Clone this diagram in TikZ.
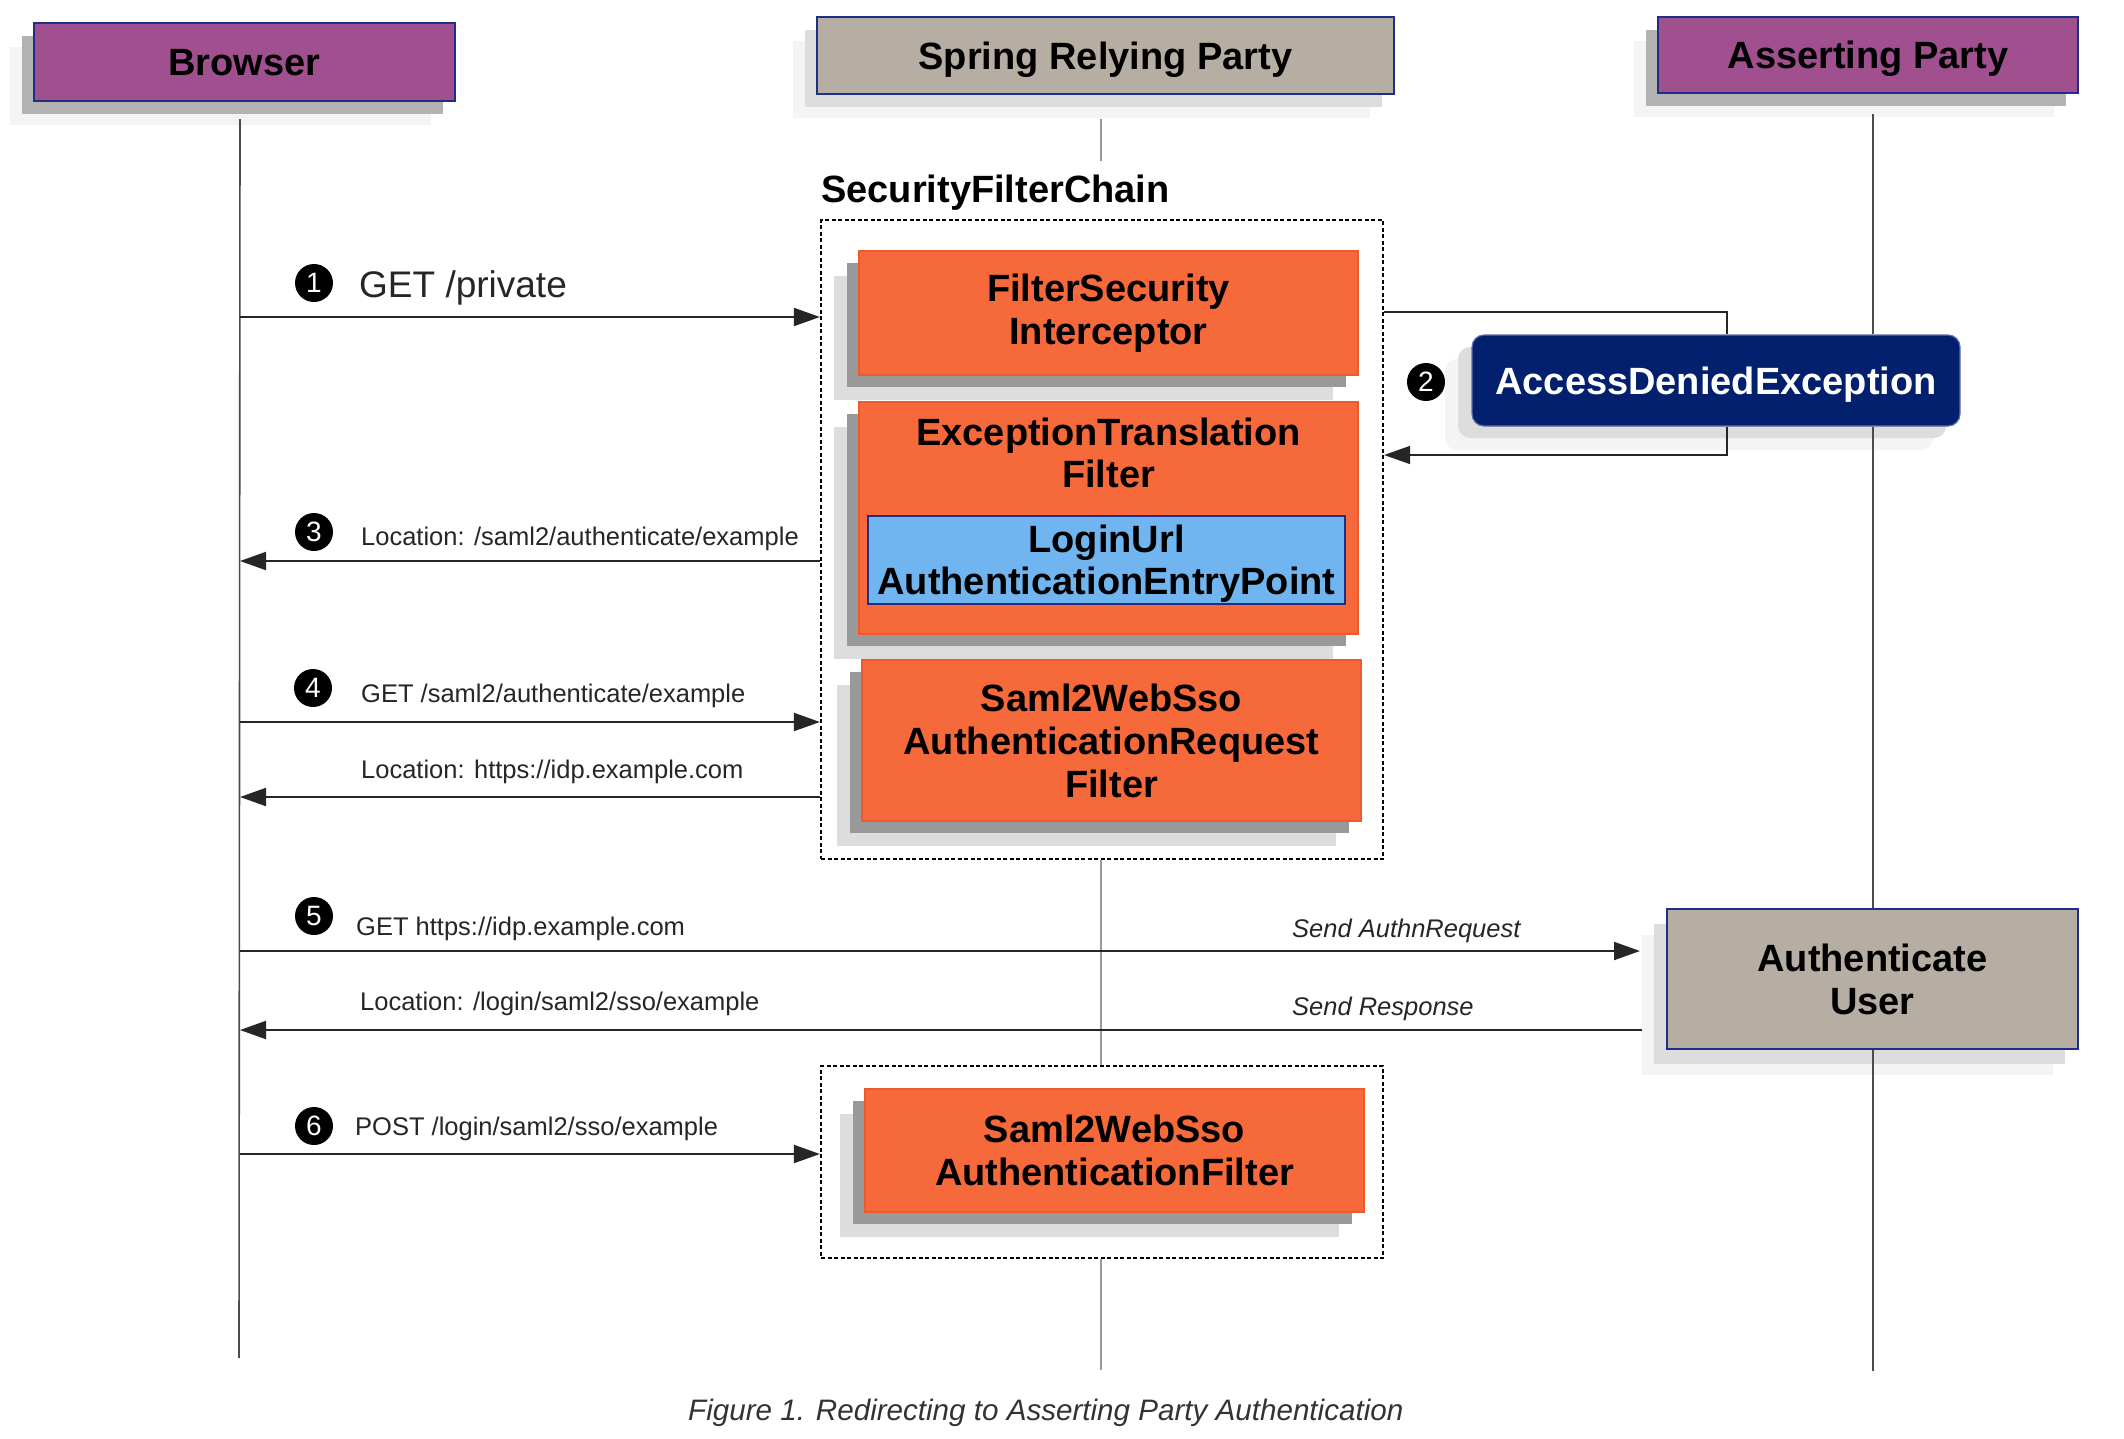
\documentclass[tikz,border=0pt]{standalone}
\usepackage{fontspec}
\setmainfont{Liberation Sans}
\usetikzlibrary{arrows.meta,shadows,calc}
\definecolor{purp}{HTML}{A0508F}
\definecolor{tan}{HTML}{B6AEA2}
\definecolor{orng}{HTML}{F6693B}
\definecolor{orngb}{HTML}{EE5A2E}
\definecolor{skyb}{HTML}{70B5F0}
\definecolor{navyb}{HTML}{1F2F86}
\definecolor{navyf}{HTML}{03206E}
\definecolor{shdark}{HTML}{999999}
\definecolor{shlight}{HTML}{DDDDDD}
\definecolor{shhdr}{HTML}{B2B2B2}
\definecolor{shfaint}{HTML}{F4F4F4}
\newcommand\bigbold{\fontsize{38}{43}\selectfont\bfseries}
\newcommand\labfont{\fontsize{25.5}{30}\selectfont}
\newcommand\itfont{\fontsize{25.5}{30}\selectfont\itshape}
\begin{document}
\begin{tikzpicture}[x=1pt,y=-1pt,
  hdrbox/.style={draw=navyb, line width=1.5pt, inner sep=0pt, font=\bigbold, align=center},
  capcenter/.style={text height=27.5pt, text depth=0pt},
  purphdr/.style={hdrbox, capcenter, fill=purp,
     general shadow={fill=shfaint, shadow xshift=-24pt, shadow yshift=-24pt},
     general shadow={fill=shhdr, shadow xshift=-12pt, shadow yshift=-13pt}},
  tanhdr/.style={hdrbox, capcenter, fill=tan,
     general shadow={fill=shfaint, shadow xshift=-24pt, shadow yshift=-24pt},
     general shadow={fill=shlight, shadow xshift=-12pt, shadow yshift=-13pt}},
  filterbox/.style={draw=orngb, line width=1.2pt, fill=orng, inner sep=0pt, font=\bigbold, align=center,
     general shadow={fill=shlight, shadow xshift=-25pt, shadow yshift=-25pt},
     general shadow={fill=shdark, shadow xshift=-12pt, shadow yshift=-12pt}},
  chainbox/.style={draw=black, line width=2.2pt, dash pattern=on 4pt off 2.5pt, inner sep=0pt},
  lifeline/.style={draw=black!70, line width=1.6pt},
  springline/.style={draw=black!40, line width=1.6pt},
  msg/.style={draw=black!85, line width=2pt, -{Triangle[length=26pt,width=18pt]}},
  loopline/.style={draw=black!85, line width=1.6pt},
  numc/.style={circle, fill=black, text=white, inner sep=0pt, minimum size=38pt, font=\fontsize{28}{28}\selectfont},
  lab/.style={anchor=base west, inner sep=0pt, font=\labfont, text=black!85},
  itlab/.style={anchor=base west, inner sep=0pt, font=\itfont, text=black!85}
]
\fill[white] (0,0) rectangle (2124,1438);
\useasboundingbox (0,0) rectangle (2124,1438);

% headers
\node[purphdr, minimum width=421pt, minimum height=78pt] (browser) at (244.5,62) {Browser};
\node[tanhdr, minimum width=577pt, minimum height=77pt] (spring) at (1105.5,55.5) {Spring Relying Party};
\node[purphdr, minimum width=420pt, minimum height=76pt] (asserting) at (1868,55) {Asserting Party};

% lifeline end points
\coordinate (bTop) at (240,119);
\coordinate (bBot) at (239,1358);
\coordinate (sTop) at (1101,119);
\coordinate (sBot) at (1101,1370);
\coordinate (aTop) at (1873,114);
\coordinate (aBot) at (1873,1371);
\draw[lifeline] (bTop) -- (bBot);

% security filter chain
\node[anchor=base west, inner sep=0pt, font=\bigbold] (sfcLabel) at (821,202) {SecurityFilterChain};
\node[chainbox, minimum width=562pt, minimum height=639pt] (chain) at (1102,539.5) {};
\node[chainbox, minimum width=562pt, minimum height=192pt] (chain2) at (1102,1162) {};
\draw[springline] (sTop) -- (sTop |- 0,161);
\draw[springline] (chain.south -| sTop) -- (chain2.north -| sTop);
\draw[springline] (chain2.south -| sTop) -- (sBot);

\node[filterbox, minimum width=499pt, minimum height=124pt] (fsi) at (1108.5,313) {FilterSecurity\\Interceptor};
\node[filterbox, minimum width=499pt, minimum height=232pt] (etf) at (1108.5,518) {};
\node[anchor=base, inner sep=0pt, font=\bigbold] (etfLabel) at (1108.5,445) {ExceptionTranslation};
\node[anchor=base, inner sep=0pt, font=\bigbold] (etfLabel2) at (1108.5,487) {Filter};
\node[draw=navyb, line width=1.5pt, fill=skyb, inner sep=0pt, minimum width=477pt, minimum height=88pt] (login) at (1106.5,560) {};
\node[anchor=base, inner sep=0pt, font=\bigbold] (loginL1) at (1106.5,552) {LoginUrl};
\node[anchor=base, inner sep=0pt, font=\bigbold] (loginL2) at (1106.5,594) {AuthenticationEntryPoint};
\node[filterbox, minimum width=499pt, minimum height=161pt] (areq) at (1111.5,740.5) {Saml2WebSso\\AuthenticationRequest\\Filter};
\node[filterbox, minimum width=499pt, minimum height=123pt] (afilt) at (1114.5,1150.5) {Saml2WebSso\\AuthenticationFilter};

% access denied exception
\node[draw=navyb!70, line width=1.2pt, fill=navyf, rounded corners=12pt, inner sep=0pt, capcenter,
  minimum width=488pt, minimum height=91pt, text=white, font=\bigbold,
  general shadow={fill=shfaint, shadow xshift=-27pt, shadow yshift=-24pt},
  general shadow={fill=shlight, shadow xshift=-14pt, shadow yshift=-12pt}] (ade) at (1716,380.5) {AccessDeniedException};

% authenticate user
\node[hdrbox, fill=tan, minimum width=411pt, minimum height=140pt,
  general shadow={fill=shfaint, shadow xshift=-25pt, shadow yshift=-26pt},
  general shadow={fill=shlight, shadow xshift=-13pt, shadow yshift=-15pt}] (auth) at (1872.5,979) {Authenticate\\User};

% asserting party lifeline, in segments between the boxes
\draw[lifeline] (aTop) -- (ade.north -| aTop);
\draw[lifeline] (ade.south -| aTop) -- (auth.north -| aTop);
\draw[lifeline] (auth.south -| aTop) -- (aBot);

% loop for step 2
\coordinate (loopR1) at (1727,312);
\coordinate (loopR2) at (1727,455);
\draw[loopline] (chain.east |- loopR1) -- (loopR1) -- (ade.north -| loopR1);
\draw[loopline, -{Triangle[length=26pt,width=18pt]}] (ade.south -| loopR2) -- (loopR2) -- (chain.east |- loopR2);

% messages
\coordinate (authIn) at (1640,951);
\coordinate (authOut) at (1642,1030);

\draw[msg] (bTop |- 0,317) -- (chain.west |- 0,317);
\node[numc] (n1) at (314,283) {1};
\node[anchor=base west, inner sep=0pt, font=\fontsize{37}{40}\selectfont, text=black!85] (m1) at (359,297) {GET /private};

\node[numc] (n2) at (1426,382) {2};

\draw[msg] (chain.west |- 0,561) -- (bTop |- 0,561);
\node[numc] (n3) at (314,532) {3};
\node[lab] (m3) at (361,545) {Location: /saml2/authenticate/example};

\draw[msg] (bTop |- 0,722) -- (chain.west |- 0,722);
\node[numc] (n4) at (313,688) {4};
\node[lab] (m4) at (361,702) {GET /saml2/authenticate/example};

\draw[msg] (chain.west |- 0,797) -- (bTop |- 0,797);
\node[lab] (m4b) at (361,778) {Location: https://idp.example.com};

\draw[msg] (bTop |- authIn) -- (authIn);
\node[numc] (n5) at (314,916) {5};
\node[lab] (m5) at (356,935) {GET https://idp.example.com};
\node[itlab] (m5r) at (1292,937) {Send AuthnRequest};

\draw[msg] (authOut) -- (bTop |- authOut);
\node[lab] (m5b) at (360,1010) {Location: /login/saml2/sso/example};
\node[itlab] (m5s) at (1292,1015) {Send Response};

\draw[msg] (bTop |- 0,1154) -- (chain2.west |- 0,1154);
\node[numc] (n6) at (314,1126) {6};
\node[lab] (m6) at (355,1135) {POST /login/saml2/sso/example};

% caption
\node[anchor=base west, inner sep=0pt, font=\fontsize{29.6}{34}\selectfont\itshape, text=black!80] (cap) at (688,1420) {Figure 1. Redirecting to Asserting Party Authentication};
\end{tikzpicture}
\end{document}
